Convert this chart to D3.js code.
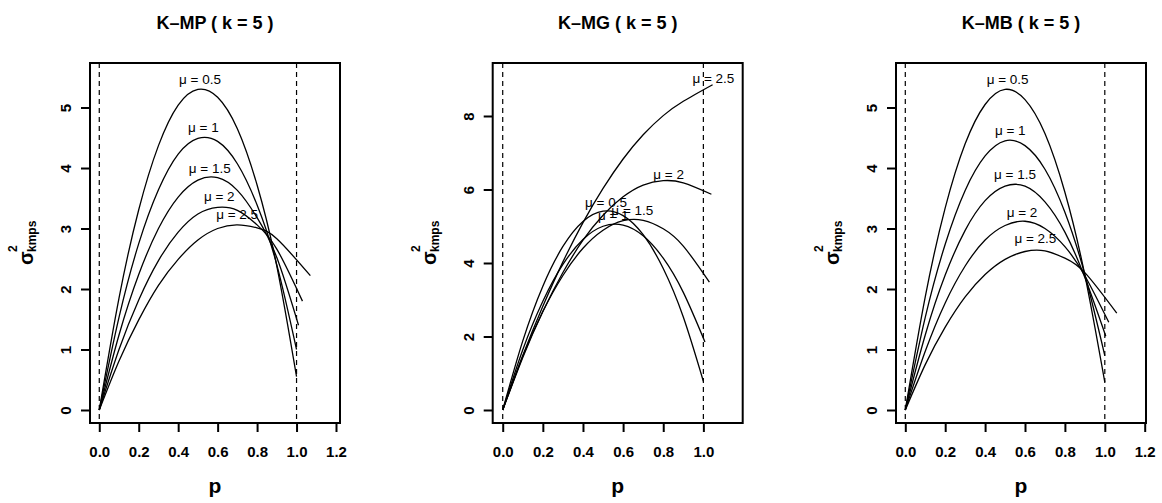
<!DOCTYPE html>
<html><head><meta charset="utf-8">
<script src="https://cdn.jsdelivr.net/npm/d3@7"></script>
<style>
body{margin:0;background:#fff}
svg{display:block}
</style>
</head><body>
<svg id="chart" width="1162" height="503"></svg>
<script>
// ---------------- data ----------------
const MU_LABELS = ["μ = 0.5", "μ = 1", "μ = 1.5", "μ = 2", "μ = 2.5"];
const P_GRID = [0, 0.1, 0.2, 0.3, 0.4, 0.5, 0.6, 0.7, 0.8, 0.9];
const DASH_P = [0, 1];

// K-MP
const MP_TITLE = "K–MP ( k = 5 )";
const MP_END_P = [1.0, 1.0, 1.01, 1.03, 1.07];
const MP_MU05 = [0, 1.85, 3.31, 4.37, 5.04, 5.30, 5.17, 4.65, 3.72, 2.38, 0.55];
const MP_MU1  = [0, 1.53, 2.75, 3.64, 4.23, 4.49, 4.44, 4.07, 3.39, 2.40, 1.00];
const MP_MU15 = [0, 1.24, 2.24, 3.00, 3.52, 3.80, 3.84, 3.63, 3.18, 2.52, 1.40];
const MP_MU2  = [0, 1.00, 1.82, 2.47, 2.94, 3.24, 3.35, 3.30, 3.06, 2.66, 1.80];
const MP_MU25 = [0, 0.81, 1.49, 2.06, 2.49, 2.81, 3.00, 3.06, 3.01, 2.83, 2.22];
const MP_LABEL_P = [0.511, 0.528, 0.560, 0.608, 0.699];
const MP_LABEL_V = [5.39, 4.59, 3.92, 3.45, 3.15];
const MP_X_TICKS = [0, 0.2, 0.4, 0.6, 0.8, 1.0, 1.2];
const MP_Y_TICKS = [0, 1, 2, 3, 4, 5];

// K-MG
const MG_TITLE = "K–MG ( k = 5 )";
const MG_END_P = [1.0, 1.008, 1.03, 1.04, 1.046];
const MG_MU05 = [0, 1.88, 3.37, 4.45, 5.13, 5.41, 5.29, 4.77, 3.85, 2.53, 0.78];
const MG_MU1  = [0, 1.64, 2.96, 3.96, 4.64, 5.00, 5.03, 4.74, 4.13, 3.20, 1.85];
const MG_MU15 = [0, 1.46, 2.68, 3.66, 4.40, 4.89, 5.15, 5.16, 4.93, 4.46, 3.48];
const MG_MU2  = [0, 1.43, 2.68, 3.74, 4.62, 5.30, 5.80, 6.12, 6.24, 6.18, 5.87];
const MG_MU25 = [0, 1.48, 2.82, 4.03, 5.10, 6.03, 6.83, 7.49, 8.01, 8.40, 8.85];
const MG_LABEL_P = [0.515, 0.551, 0.646, 0.827, 1.050];
const MG_LABEL_V = [5.53, 5.17, 5.31, 6.29, 8.91];
const MG_X_TICKS = [0, 0.2, 0.4, 0.6, 0.8, 1.0];
const MG_Y_TICKS = [0, 2, 4, 6, 8];

// K-MB
const MB_TITLE = "K–MB ( k = 5 )";
const MB_END_P = [1.0, 1.0, 1.005, 1.02, 1.06];
const MB_MU05 = [0, 1.87, 3.34, 4.40, 5.05, 5.30, 5.13, 4.57, 3.60, 2.23, 0.46];
const MB_MU1  = [0, 1.53, 2.74, 3.63, 4.20, 4.45, 4.37, 3.98, 3.27, 2.24, 0.90];
const MB_MU15 = [0, 1.24, 2.23, 2.97, 3.46, 3.70, 3.70, 3.44, 2.94, 2.19, 1.22];
const MB_MU2  = [0, 0.97, 1.77, 2.38, 2.81, 3.05, 3.12, 3.00, 2.70, 2.22, 1.45];
const MB_MU25 = [0, 0.75, 1.37, 1.87, 2.24, 2.49, 2.62, 2.63, 2.51, 2.27, 1.60];
const MB_LABEL_P = [0.513, 0.526, 0.550, 0.585, 0.652];
const MB_LABEL_V = [5.39, 4.54, 3.82, 3.19, 2.76];
const MB_X_TICKS = [0, 0.2, 0.4, 0.6, 0.8, 1.0, 1.2];
const MB_Y_TICKS = [0, 1, 2, 3, 4, 5];

// ---------------- layout ----------------
const FONT = '"Liberation Sans", Arial, Helvetica, sans-serif';
const TOP = 63, BOTTOM = 423;

const panels = [
  { title: MP_TITLE, series: [MP_MU05, MP_MU1, MP_MU15, MP_MU2, MP_MU25], endP: MP_END_P,
    labelP: MP_LABEL_P, labelV: MP_LABEL_V, xTicks: MP_X_TICKS, yTicks: MP_Y_TICKS,
    left: 90, right: 340, xDom: [-0.047, 1.2203], yDom: [-0.215, 5.736] },
  { title: MG_TITLE, series: [MG_MU05, MG_MU1, MG_MU15, MG_MU2, MG_MU25], endP: MG_END_P,
    labelP: MG_LABEL_P, labelV: MG_LABEL_V, xTicks: MG_X_TICKS, yTicks: MG_Y_TICKS,
    left: 492.7, right: 742.7, xDom: [-0.0499, 1.196], yDom: [-0.354, 9.442] },
  { title: MB_TITLE, series: [MB_MU05, MB_MU1, MB_MU15, MB_MU2, MB_MU25], endP: MB_END_P,
    labelP: MB_LABEL_P, labelV: MB_LABEL_V, xTicks: MB_X_TICKS, yTicks: MB_Y_TICKS,
    left: 896, right: 1146, xDom: [-0.0466, 1.2065], yDom: [-0.215, 5.736] }
];

const svg = d3.select("#chart");

panels.forEach(pn => {
  const x = d3.scaleLinear().domain(pn.xDom).range([pn.left, pn.right]);
  const y = d3.scaleLinear().domain(pn.yDom).range([BOTTOM, TOP]);
  const g = svg.append("g");
  const cx = (pn.left + pn.right) / 2;

  // title
  g.append("text").attr("x", cx).attr("y", 28.5)
    .attr("text-anchor", "middle").attr("font-family", FONT)
    .attr("font-size", 18).attr("font-weight", "bold").text(pn.title);

  // dashed verticals
  g.selectAll("line.dash").data(DASH_P).enter().append("line")
    .attr("x1", d => x(d)).attr("x2", d => x(d))
    .attr("y1", TOP).attr("y2", BOTTOM)
    .attr("stroke", "#000").attr("stroke-width", 1.2)
    .attr("stroke-dasharray", "5,4");

  // curves
  const line = d3.line().x(d => x(d[0])).y(d => y(d[1])).curve(d3.curveNatural);
  pn.series.forEach((vals, i) => {
    const ps = P_GRID.concat([pn.endP[i]]);
    const pts = vals.map((v, j) => [ps[j], v]);
    g.append("path").attr("d", line(pts))
      .attr("fill", "none").attr("stroke", "#000").attr("stroke-width", 1.3);
  });

  // labels
  MU_LABELS.forEach((lab, i) => {
    g.append("text").attr("x", x(pn.labelP[i])).attr("y", y(pn.labelV[i]))
      .attr("text-anchor", "middle").attr("font-family", FONT)
      .attr("font-size", 13.5).attr("fill", "#000").text(lab);
  });

  // x axis
  const gx = g.append("g").attr("transform", `translate(0,${BOTTOM})`)
    .call(d3.axisBottom(x).tickValues(pn.xTicks).tickFormat(d3.format(".1f"))
      .tickSize(9).tickPadding(14));
  gx.select(".domain").remove();
  gx.attr("font-family", FONT).attr("font-size", 15).attr("font-weight", "bold");
  gx.selectAll("line").attr("stroke", "#000").attr("stroke-width", 2);
  gx.selectAll("text").attr("fill", "#000");

  // y axis
  const gy = g.append("g").attr("transform", `translate(${pn.left},0)`)
    .call(d3.axisLeft(y).tickValues(pn.yTicks).tickFormat(d3.format("d")).tickSize(9));
  gy.select(".domain").remove();
  gy.attr("font-family", FONT).attr("font-size", 15).attr("font-weight", "bold");
  gy.selectAll("line").attr("stroke", "#000").attr("stroke-width", 2);
  gy.selectAll("text").attr("fill", "#000").attr("x", null).attr("dy", null)
    .attr("text-anchor", "middle").attr("transform", "translate(-19,0) rotate(-90)");

  // box
  g.append("rect").attr("x", pn.left).attr("y", TOP)
    .attr("width", pn.right - pn.left).attr("height", BOTTOM - TOP)
    .attr("fill", "none").attr("stroke", "#000").attr("stroke-width", 2);

  // x label
  g.append("text").attr("x", cx).attr("y", 493)
    .attr("text-anchor", "middle").attr("font-family", FONT)
    .attr("font-size", 21).attr("font-weight", "bold").text("p");

  // y label: sigma^2_kmps rotated
  const yl = g.append("g")
    .attr("transform", `translate(${pn.left - 57},265) rotate(-90)`)
    .attr("font-family", FONT).attr("font-weight", "bold");
  yl.append("text").attr("x", 0).attr("y", 0).attr("font-size", 20).text("σ");
  yl.append("text").attr("x", 13).attr("y", -16).attr("font-size", 12).text("2");
  yl.append("text").attr("x", 13).attr("y", 3).attr("font-size", 12).text("kmps");
});
</script>
</body></html>
